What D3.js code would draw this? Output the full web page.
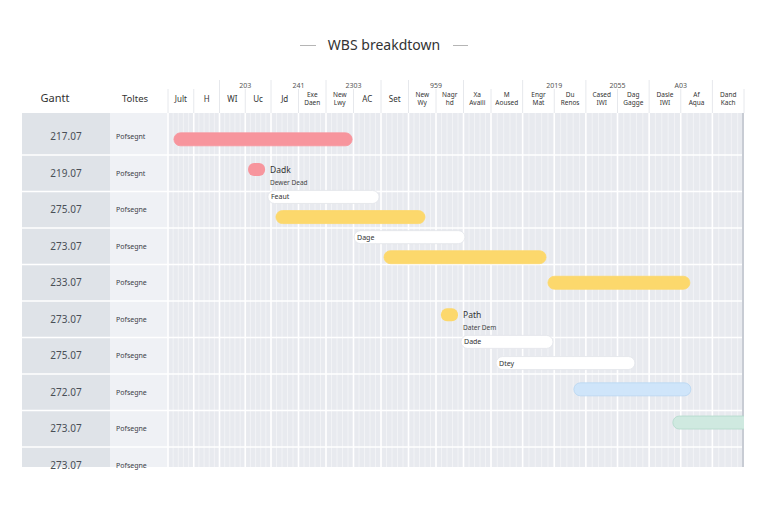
<!DOCTYPE html>
<html>
<head>
<meta charset="utf-8">
<script src="https://cdn.jsdelivr.net/npm/d3@7"></script>
<style>
  body { margin: 0; background: #ffffff; }
  svg { display: block; font-family: "Noto Sans", "DejaVu Sans", sans-serif; }
</style>
</head>
<body>
<script>
// données
const colonnes = ["Jult", "H", "WI", "Uc", "Jd", "Exe|Daen", "New|Lwy", "AC", "Set", "New|Wy",
  "Nagr|hd", "Xa|Availi", "M|Aoused", "Engr|Mat", "Du|Renos", "Cased|IWI", "Dag|Gagge", "Dasle|IWI", "Af|Aqua", "Dand|Kach"]
const groupes = ["203", "241", "2303", "959", "2019", "2055", "A03"]
const groupesDebut = [2, 4, 6, 9, 13, 15, 17]

const codes = ["217.07", "219.07", "275.07", "273.07", "233.07", "273.07", "275.07", "272.07", "273.07", "273.07"]
const noms = ["Pofsegnt", "Pofsegnt", "Pofsegne", "Pofsegne", "Pofsegne", "Pofsegne", "Pofsegne", "Pofsegne", "Pofsegne", "Pofsegne"]

// barres : début, fin (en colonnes), position verticale (en lignes)
const barresDebut = [0.23, 3.88, 4.18, 7.02, 8.11, 13.8, 10.91, 12.16, 14.62, 17.75]
const barresFin = [6.95, 7.93, 9.6, 11.05, 13.74, 18.29, 13.96, 16.55, 18.32, 20.5]
const barresLigne = [0.57, 2.15, 2.7, 3.25, 3.8, 4.5, 6.12, 6.7, 7.42, 8.33]
const barresType = ["rose", "blanc", "jaune", "blanc", "jaune", "jaune", "blanc", "blanc", "bleu", "vert"]
const barresTexte = ["", "Feaut", "", "Dage", "", "", "Dade", "Dtey", "", ""]

// jalons
const jalonsDebut = [3.11, 10.18]
const jalonsFin = [3.77, 10.8]
const jalonsLigne = [1.4, 5.38]
const jalonsType = ["rose", "jaune"]
const jalonsTitre = ["Dadk", "Path"]
const jalonsSous = ["Dewer Dead", "Dater Dem"]

const couleurs = {
  rose: { fill: "#f7959d", stroke: "#f7959d" },
  jaune: { fill: "#fcd86c", stroke: "#fcd86c" },
  blanc: { fill: "#ffffff", stroke: "#e2e5ea" },
  bleu: { fill: "#cfe5fa", stroke: "#b7d5f1" },
  vert: { fill: "#cfe9e0", stroke: "#b3d9cc" }
}

const W = 768, H = 512
const gauche = 22, droite = 744, haut = 80, basEntete = 113, bas = 467
const colGantt = 110, colTaches = 168

const svg = d3.select("body").append("svg")
  .attr("width", W)
  .attr("height", H)

// échelles
let x = d3.scaleLinear()
  .domain([0, 4, 12, 20])
  .range([colTaches, 271, 491, droite])

let y = d3.scaleLinear()
  .domain([0, 10])
  .range([118.5, 483.5])

// titre
svg.append("text")
  .attr("x", W / 2)
  .attr("y", 50)
  .attr("text-anchor", "middle")
  .style("font-size", "14px")
  .style("fill", "#333")
  .text("WBS breakdtown")

svg.append("line").attr("x1", 300).attr("x2", 316).attr("y1", 45.5).attr("y2", 45.5)
  .attr("stroke", "#b5b5b5")
svg.append("line").attr("x1", 453).attr("x2", 468).attr("y1", 45.5).attr("y2", 45.5)
  .attr("stroke", "#b5b5b5")

svg.append("defs").append("clipPath").attr("id", "clip")
  .append("rect")
  .attr("x", colTaches).attr("y", basEntete)
  .attr("width", droite - colTaches).attr("height", bas - basEntete)

// fonds
svg.append("rect").attr("x", gauche).attr("y", basEntete)
  .attr("width", colGantt - gauche).attr("height", bas - basEntete).attr("fill", "#dfe3e8")
svg.append("rect").attr("x", colGantt).attr("y", basEntete)
  .attr("width", colTaches - colGantt).attr("height", bas - basEntete).attr("fill", "#eff1f5")
svg.append("rect").attr("x", colTaches).attr("y", basEntete)
  .attr("width", droite - colTaches).attr("height", bas - basEntete).attr("fill", "#e8eaef")

let grille = svg.append("g").attr("clip-path", "url(#clip)")

// petites lignes dans chaque colonne
let sous = []
colonnes.forEach((c, i) => { for (let k = 1; k < 5; k++) sous.push(i + k / 5) })
grille.selectAll(".sous")
  .data(sous)
  .enter().append("line")
  .attr("x1", d => x(d)).attr("x2", d => x(d))
  .attr("y1", basEntete).attr("y2", bas)
  .attr("stroke", "#f2f3f6")
  .attr("stroke-width", 1)

// lignes des colonnes
grille.selectAll(".col")
  .data(d3.range(1, colonnes.length))
  .enter().append("line")
  .attr("x1", d => x(d)).attr("x2", d => x(d))
  .attr("y1", basEntete).attr("y2", bas)
  .attr("stroke", "#ffffff")
  .attr("stroke-width", 1.6)

// lignes des rangées
svg.selectAll(".rang")
  .data(d3.range(1, codes.length))
  .enter().append("line")
  .attr("x1", gauche).attr("x2", droite)
  .attr("y1", d => y(d)).attr("y2", d => y(d))
  .attr("stroke", "#ffffff")
  .attr("stroke-width", 1.6)

svg.append("line").attr("x1", colTaches).attr("x2", colTaches)
  .attr("y1", basEntete).attr("y2", bas).attr("stroke", "#ffffff").attr("stroke-width", 1.6)

// bord droit
svg.append("line").attr("x1", droite - 1).attr("x2", droite - 1)
  .attr("y1", basEntete).attr("y2", bas).attr("stroke", "#c8ccd4").attr("stroke-width", 2)

// textes des rangées
svg.selectAll(".code")
  .data(codes)
  .enter().append("text")
  .attr("x", 66)
  .attr("y", (d, i) => y(i + 0.5) + 3.5)
  .attr("text-anchor", "middle")
  .style("font-size", "10px")
  .style("fill", "#4a4f57")
  .text(d => d)

svg.selectAll(".nom")
  .data(noms)
  .enter().append("text")
  .attr("x", 116)
  .attr("y", (d, i) => y(i + 0.5) + 2.5)
  .style("font-size", "7px")
  .style("fill", "#3c4048")
  .text(d => d)

// en-tête
svg.append("text").attr("x", 55).attr("y", 102).attr("text-anchor", "middle")
  .style("font-size", "11px").style("fill", "#333").text("Gantt")
svg.append("text").attr("x", 135).attr("y", 102).attr("text-anchor", "middle")
  .style("font-size", "9.5px").style("fill", "#333").text("Toltes")

let entete = svg.append("g")

entete.selectAll(".sep")
  .data(d3.range(0, colonnes.length + 1))
  .enter().append("line")
  .attr("x1", d => x(d)).attr("x2", d => x(d))
  .attr("y1", d => groupesDebut.includes(d) || groupesDebut.map(g => g + 2).includes(d) ? haut : 89)
  .attr("y2", basEntete)
  .attr("stroke", "#e6e8ec")

entete.selectAll(".grp")
  .data(groupes)
  .enter().append("text")
  .attr("x", (d, i) => x(groupesDebut[i] + 1))
  .attr("y", 88)
  .attr("text-anchor", "middle")
  .style("font-size", "7px")
  .style("fill", "#555")
  .text(d => d)

let etiq = entete.selectAll(".lab")
  .data(colonnes)
  .enter().append("text")
  .attr("text-anchor", "middle")
  .style("font-size", d => d.includes("|") ? "6.5px" : "8px")
  .style("fill", "#333")

etiq.each(function (d, i) {
  let parts = d.split("|")
  let t = d3.select(this)
  parts.forEach((p, k) => {
    t.append("tspan")
      .attr("x", x(i + 0.5))
      .attr("y", parts.length > 1 ? 97 + k * 8 : 102)
      .text(p)
  })
})

// barres
let barres = svg.append("g").attr("clip-path", "url(#clip)")

barres.selectAll(".barre")
  .data(barresDebut)
  .enter().append("rect")
  .attr("x", (d, i) => x(d))
  .attr("y", (d, i) => y(barresLigne[i]) - 6.5)
  .attr("width", (d, i) => x(barresFin[i]) - x(d))
  .attr("height", 13)
  .attr("rx", 6.5)
  .attr("fill", (d, i) => couleurs[barresType[i]].fill)
  .attr("stroke", (d, i) => couleurs[barresType[i]].stroke)
  .attr("stroke-width", 0.8)

barres.selectAll(".btxt")
  .data(barresTexte)
  .enter().append("text")
  .attr("x", (d, i) => x(barresDebut[i]) + 3)
  .attr("y", (d, i) => y(barresLigne[i]) + 2.5)
  .style("font-size", "7px")
  .style("fill", "#333")
  .text(d => d)

// jalons
barres.selectAll(".jalon")
  .data(jalonsDebut)
  .enter().append("rect")
  .attr("x", d => x(d))
  .attr("y", (d, i) => y(jalonsLigne[i]) - 6.5)
  .attr("width", (d, i) => x(jalonsFin[i]) - x(d))
  .attr("height", 13)
  .attr("rx", 6)
  .attr("fill", (d, i) => couleurs[jalonsType[i]].fill)

barres.selectAll(".jtitre")
  .data(jalonsTitre)
  .enter().append("text")
  .attr("x", (d, i) => x(jalonsFin[i]) + 5)
  .attr("y", (d, i) => y(jalonsLigne[i]) + 3)
  .style("font-size", "8.5px")
  .style("fill", "#333")
  .text(d => d)

barres.selectAll(".jsous")
  .data(jalonsSous)
  .enter().append("text")
  .attr("x", (d, i) => x(jalonsFin[i]) + 5)
  .attr("y", (d, i) => y(jalonsLigne[i]) + 15)
  .style("font-size", "6.5px")
  .style("fill", "#444")
  .text(d => d)
</script>
</body>
</html>
